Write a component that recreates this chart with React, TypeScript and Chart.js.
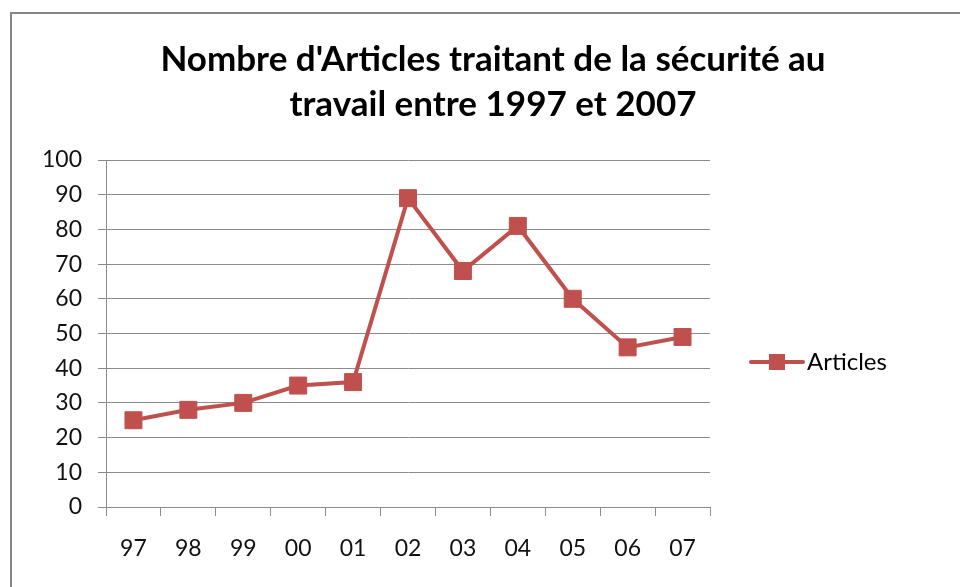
import React, { useEffect, useRef } from "react";
import { Chart, registerables } from "chart.js";

Chart.register(...registerables);

const categories = ["97", "98", "99", "00", "01", "02", "03", "04", "05", "06", "07"];
const articles = [25, 28, 30, 35, 36, 89, 68, 81, 60, 46, 49];
const titleLines = ["Nombre d'Articles traitant de la sécurité au", "travail entre 1997 et 2007"];
const seriesName = "Articles";

const FONT = "Lato, 'DejaVu Sans', sans-serif";
const RED = "#C0504D";
const GRID = "#8c8c8c";

const titlePlugin = {
  id: "customTitle",
  afterDraw(chart: any) {
    const ctx = chart.ctx;
    ctx.save();
    ctx.fillStyle = "#000";
    ctx.font = `bold 35px ${FONT}`;
    ctx.textAlign = "center";
    ctx.textBaseline = "alphabetic";
    ctx.fillText(titleLines[0], 493, 71);
    ctx.fillText(titleLines[1], 493, 116);
    ctx.restore();
  },
};

const legendPlugin = {
  id: "customLegend",
  afterDraw(chart: any) {
    const ctx = chart.ctx;
    const ds = chart.data.datasets[0];
    const y = 362;
    ctx.save();
    ctx.strokeStyle = ds.borderColor;
    ctx.lineWidth = 4;
    ctx.lineCap = "round";
    ctx.beginPath();
    ctx.moveTo(751, y);
    ctx.lineTo(803, y);
    ctx.stroke();
    ctx.fillStyle = ds.pointBackgroundColor;
    ctx.fillRect(777 - 8, y - 8, 16, 16);
    ctx.fillStyle = "#000";
    ctx.font = `24px ${FONT}`;
    ctx.textAlign = "left";
    ctx.textBaseline = "middle";
    ctx.fillText(ds.label, 807, y);
    ctx.restore();
  },
};

function ChartView() {
  const ref = useRef<HTMLCanvasElement | null>(null);
  useEffect(() => {
    if (!ref.current) return;
    const chart = new Chart(ref.current, {
      type: "line",
      data: {
        labels: categories,
        datasets: [
          {
            label: seriesName,
            data: articles,
            borderColor: RED,
            backgroundColor: RED,
            pointBackgroundColor: RED,
            pointBorderColor: RED,
            borderWidth: 4,
            pointStyle: "rect",
            pointRadius: 12,
            pointBorderWidth: 1,
            tension: 0,
          },
        ],
      },
      options: {
        responsive: false,
        animation: false,
        layout: { padding: { top: 160, right: 250, bottom: 0, left: 0 } },
        plugins: {
          legend: { display: false },
          title: { display: false },
          tooltip: { enabled: false },
        },
        scales: {
          x: {
            offset: true,
            grid: {
              offset: true,
              drawOnChartArea: false,
              drawTicks: true,
              tickLength: 9,
              color: GRID,
              lineWidth: 1,
            },
            border: { display: true, color: GRID, width: 1 },
            ticks: { color: "#111", font: { family: FONT, size: 23 }, padding: 19 },
            afterFit(scale: any) {
              scale.height = 80;
            },
          },
          y: {
            min: 0,
            max: 100,
            ticks: { stepSize: 10, color: "#111", font: { family: FONT, size: 23 }, padding: 16 },
            grid: { color: GRID, lineWidth: 1, tickLength: 8, drawTicks: true },
            border: { display: true, color: GRID, width: 1 },
            afterFit(scale: any) {
              scale.width = 106;
            },
          },
        },
      },
      plugins: [titlePlugin, legendPlugin],
    });
    return () => chart.destroy();
  }, []);
  return <canvas ref={ref} width={960} height={587} style={{ display: "block" }} />;
}

export default function App() {
  return (
    <div
      style={{
        position: "fixed",
        left: 0,
        top: 0,
        width: 960,
        height: 587,
        background: "#fff",
        overflow: "hidden",
      }}
    >
      <ChartView />
      <div
        style={{
          position: "absolute",
          left: 10,
          top: 12,
          width: 2000,
          height: 2000,
          border: "2px solid #868686",
          pointerEvents: "none",
        }}
      />
    </div>
  );
}
